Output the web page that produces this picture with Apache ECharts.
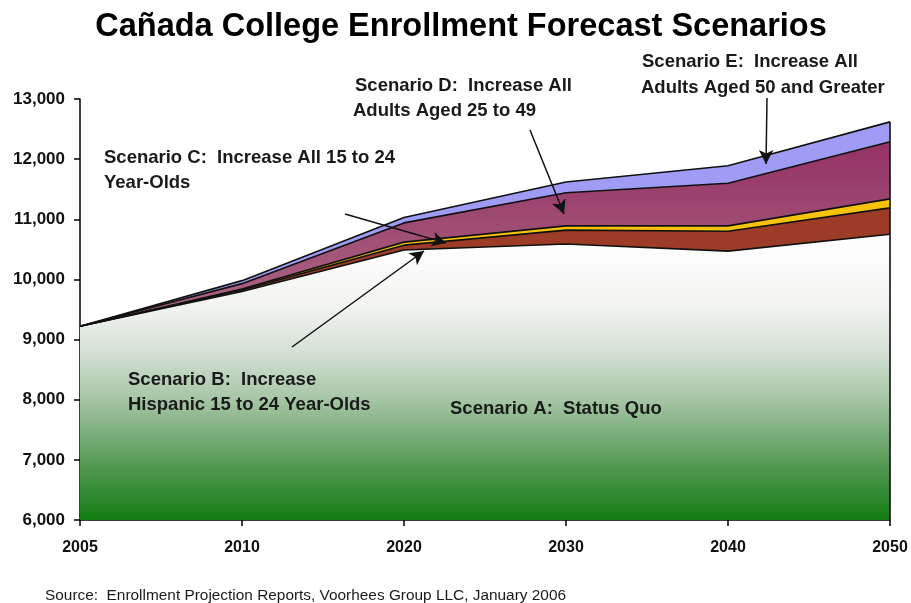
<!DOCTYPE html>
<html>
<head>
<meta charset="utf-8">
<script src="https://cdn.jsdelivr.net/npm/echarts@6/dist/echarts.min.js"></script>
<style>
html,body{margin:0;padding:0;background:#fff;}
#chart{width:911px;height:603px;}
</style>
</head>
<body>
<div id="chart"></div>
<script>
// ---- data ----
var years = ['2005', '2010', '2020', '2030', '2040', '2050'];
var scenarioA = [9220, 9800, 10490, 10590, 10470, 10750];
var scenarioB = [0, 25, 80, 230, 330, 440];
var scenarioC = [0, 15, 50, 70, 90, 150];
var scenarioD = [0, 90, 320, 550, 710, 950];
var scenarioE = [0, 50, 90, 180, 290, 330];
var yTicks = [6000, 7000, 8000, 9000, 10000, 11000, 12000, 13000];

var totals = years.map(function (_, i) {
  return scenarioA[i] + scenarioB[i] + scenarioC[i] + scenarioD[i] + scenarioE[i];
});

var chart = echarts.init(document.getElementById('chart'));
var FONT = 'Arial, "Liberation Sans", sans-serif';
var edge = { color: '#111', width: 1.6 };

function areaSeries(name, data, color, extra) {
  var s = {
    name: name,
    type: 'line',
    stack: 'total',
    data: data,
    symbol: 'none',
    smooth: false,
    lineStyle: edge,
    areaStyle: { color: color, opacity: 1 },
    emphasis: { disabled: true }
  };
  if (extra) for (var k in extra) s[k] = extra[k];
  return s;
}

function arrow(x1, y1, x2, y2) {
  return [{ x: x1, y: y1 }, { x: x2, y: y2 }];
}

function label(x, y, text, size, weight, fam) {
  return {
    type: 'text', z: 100, silent: true,
    style: {
      x: x, y: y, text: text,
      font: (weight || 'bold') + ' ' + (size || 18.5) + 'px ' + (fam || FONT),
      fill: '#1a1a1a', verticalAlign: 'middle', align: 'left'
    }
  };
}

var option = {
  backgroundColor: '#ffffff',
  animation: false,
  grid: { left: 80, right: 21, top: 99, bottom: 83 },
  xAxis: {
    type: 'category',
    data: years,
    boundaryGap: false,
    axisLine: { lineStyle: { color: '#000', width: 1.5 } },
    axisTick: { show: true, length: 6, lineStyle: { color: '#000', width: 1.5 } },
    axisLabel: { fontFamily: FONT, fontWeight: 'bold', fontSize: 16, color: '#111', margin: 20 },
    splitLine: { show: false }
  },
  yAxis: {
    type: 'value',
    min: yTicks[0],
    max: yTicks[yTicks.length - 1],
    interval: 1000,
    axisLine: { show: true, lineStyle: { color: '#000', width: 1.5 } },
    axisTick: { show: true, length: 6, lineStyle: { color: '#000', width: 1.5 } },
    axisLabel: {
      fontFamily: FONT, fontWeight: 'bold', fontSize: 17, color: '#111', margin: 15,
      formatter: function (v) { return v.toLocaleString('en-US'); }
    },
    splitLine: { show: false }
  },
  series: [
    areaSeries('Scenario A', scenarioA, {
      type: 'linear', x: 0, y: 0, x2: 0, y2: 1,
      colorStops: [
        { offset: 0, color: '#ffffff' },
        { offset: 0.25, color: '#f2f4f1' },
        { offset: 0.41, color: '#d5e1d5' },
        { offset: 0.58, color: '#a5c5a5' },
        { offset: 0.79, color: '#5a9c5a' },
        { offset: 1, color: '#127c12' }
      ]
    }),
    areaSeries('Scenario B', scenarioB, '#9c3b26'),
    areaSeries('Scenario C', scenarioC, '#f7c20a'),
    areaSeries('Scenario D', scenarioD, {
      type: 'linear', x: 0, y: 0, x2: 0, y2: 1,
      colorStops: [
        { offset: 0, color: '#933264' },
        { offset: 1, color: '#ad6a86' }
      ]
    }),
    areaSeries('Scenario E', scenarioE, '#9f9cf6', {
      markLine: {
        silent: true,
        symbol: ['none', 'none'],
        label: { show: false },
        lineStyle: { color: '#111', width: 1.6, type: 'solid' },
        data: [
          [{ coord: [years[years.length - 1], yTicks[0]] },
           { coord: [years[years.length - 1], totals[totals.length - 1]] }]
        ]
      }
    }),
    {
      name: 'arrows',
      type: 'line',
      data: [],
      z: 10,
      markLine: {
        silent: true,
        symbol: ['none', 'arrow'],
        symbolSize: [11, 14],
        label: { show: false },
        lineStyle: { color: '#111', width: 1.5, type: 'solid' },
        data: [
          arrow(767, 98, 766, 164),
          arrow(530, 130, 564, 214),
          arrow(345, 214, 446, 243),
          arrow(292, 347, 424, 251)
        ]
      }
    }
  ],
  graphic: [
    {
      type: 'text', z: 100, silent: true,
      style: {
        x: 461, y: 27, text: 'Cañada College Enrollment Forecast Scenarios',
        font: 'bold 32.5px ' + FONT, fill: '#000', align: 'center', verticalAlign: 'middle'
      }
    },
    label(642, 62, 'Scenario E:  Increase All'),
    label(641, 88, 'Adults Aged 50 and Greater'),
    label(355, 86, 'Scenario D:  Increase All'),
    label(353, 111, 'Adults Aged 25 to 49'),
    label(104, 158, 'Scenario C:  Increase All 15 to 24'),
    label(104, 183, 'Year-Olds'),
    label(128, 380, 'Scenario B:  Increase'),
    label(128, 405, 'Hispanic 15 to 24 Year-Olds'),
    label(450, 409, 'Scenario A:  Status Quo'),
    label(45, 596, 'Source:  Enrollment Projection Reports, Voorhees Group LLC, January 2006', 15.4, 'normal')
  ]
};
chart.setOption(option);
</script>
</body>
</html>
